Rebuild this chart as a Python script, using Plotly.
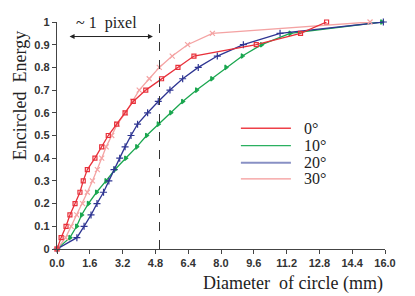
import plotly.graph_objects as go

energy = [0, 0.05, 0.1, 0.15, 0.2, 0.25, 0.3, 0.35, 0.4, 0.45, 0.5,
          0.55, 0.6, 0.65, 0.7, 0.75, 0.8, 0.85, 0.9, 0.95, 1.0]
d_0 = [0, 0.2, 0.44, 0.63, 0.88, 1.12, 1.28, 1.48, 1.85, 2.18, 2.5,
       2.91, 3.32, 3.72, 4.33, 5.1, 5.9, 6.68, 9.72, 11.88, 13.15]
d_10 = [0, 0.63, 0.96, 1.2, 1.53, 1.93, 2.39, 2.83, 3.35, 3.89, 4.37,
        4.94, 5.55, 6.13, 6.81, 7.55, 8.24, 9.04, 9.98, 11.37, 15.84]
d_20 = [0, 0.97, 1.32, 1.66, 1.95, 2.27, 2.53, 2.78, 3.06, 3.32, 3.61,
        3.93, 4.42, 4.94, 5.51, 6.13, 6.89, 7.82, 9.09, 10.88, 15.92]
d_30 = [0, 0.42, 0.69, 0.96, 1.25, 1.48, 1.73, 1.97, 2.18, 2.4, 2.67,
        2.94, 3.34, 3.69, 4.01, 4.5, 4.99, 5.62, 6.37, 7.58, 15.27]
labels = ["0°", "10°", "20°", "30°"]
x_ticks = [0.0, 1.6, 3.2, 4.8, 6.4, 8.0, 9.6, 11.2, 12.8, 14.4, 16.0]
y_ticks = [0, 0.1, 0.2, 0.3, 0.4, 0.5, 0.6, 0.7, 0.8, 0.9, 1]
y_tick_text = ["0", "0.1", "0.2", "0.3", "0.4", "0.5", "0.6", "0.7", "0.8", "0.9", "1"]
pixel_size = 5.0

colors = ["#e8303a", "#1aa64f", "#2e3592", "#f4a3a3"]
legend_colors = ["#ee4048", "#2ab060", "#8890c4", "#f49898"]
symbols = ["square-open", "triangle-right", "cross-thin-open", "x-thin-open"]
sizes = [4, 4, 5, 5]
series = [d_0, d_10, d_20, d_30]

fig = go.Figure()
for order in [1, 2, 3, 0]:
    fig.add_trace(go.Scatter(
        x=series[order], y=energy, mode="lines+markers", name=labels[order],
        line=dict(color=colors[order], width=1.3),
        marker=dict(symbol=symbols[order], size=sizes[order],
                    color=colors[order], line=dict(width=1.2, color=colors[order])),
        cliponaxis=False, showlegend=False))

# dashed pixel line
fig.add_shape(type="line", x0=pixel_size, x1=pixel_size, y0=0, y1=1.03,
              xref="x", yref="y", line=dict(color="#333333", width=1, dash="dash"))

# arrow
fig.add_annotation(x=4.68, y=0.936, ax=0.54, ay=0.936, xref="x", yref="y",
                   axref="x", ayref="y", showarrow=True, arrowhead=2,
                   arrowside="end+start", arrowsize=1, arrowwidth=1,
                   arrowcolor="#222222", text="")
fig.add_annotation(x=2.4, y=0.996, xref="x", yref="y", text="~ 1  pixel",
                   showarrow=False, font=dict(family="Liberation Serif", size=16, color="#222"),
                   yanchor="middle")

# manual legend
leg_y = [0.532, 0.455, 0.38, 0.309]
for i in range(4):
    fig.add_shape(type="line", x0=8.97, x1=11.41, y0=leg_y[i], y1=leg_y[i],
                  xref="x", yref="y",
                  line=dict(color=legend_colors[i], width=2 if i == 2 else 1.3))
    fig.add_annotation(x=11.95, y=leg_y[i], xref="x", yref="y", text=labels[i],
                       showarrow=False, xanchor="left", yanchor="middle",
                       font=dict(family="Liberation Serif", size=16, color="#222"))

fig.add_annotation(x=-0.112, y=0.678, xref="paper", yref="paper",
                   text="Encircled  Energy", textangle=-90, showarrow=False,
                   xanchor="center", yanchor="middle",
                   font=dict(family="Liberation Serif", size=18, color="#222"))
fig.add_annotation(x=1.0, y=-0.150, xref="paper", yref="paper",
                   text="Diameter  of circle (mm)", showarrow=False,
                   xanchor="right", yanchor="middle",
                   font=dict(family="Liberation Serif", size=18, color="#222"))

# page body has an 8px margin: shrink the figure to fit the 415x296 window
fig.update_layout(
    width=407, height=288, margin=dict(l=49, r=30, t=8, b=47),
    paper_bgcolor="white", plot_bgcolor="white",
    xaxis=dict(range=[0, 16], tickvals=x_ticks, ticktext=[f"{v:.1f}" for v in x_ticks],
               showgrid=False, zeroline=False, showline=True, linecolor="#444",
               linewidth=1.3, ticks="outside", ticklen=4, tickcolor="#444",
               tickfont=dict(family="Liberation Sans", size=11, color="#333", weight="bold")),
    yaxis=dict(range=[0, 1], tickvals=y_ticks, ticktext=y_tick_text,
               showgrid=False, zeroline=False, showline=True, linecolor="#444",
               linewidth=1.3, ticks="outside", ticklen=4, tickcolor="#444",
               tickfont=dict(family="Liberation Sans", size=11, color="#333", weight="bold")),
)
fig.write_html("out.html")
